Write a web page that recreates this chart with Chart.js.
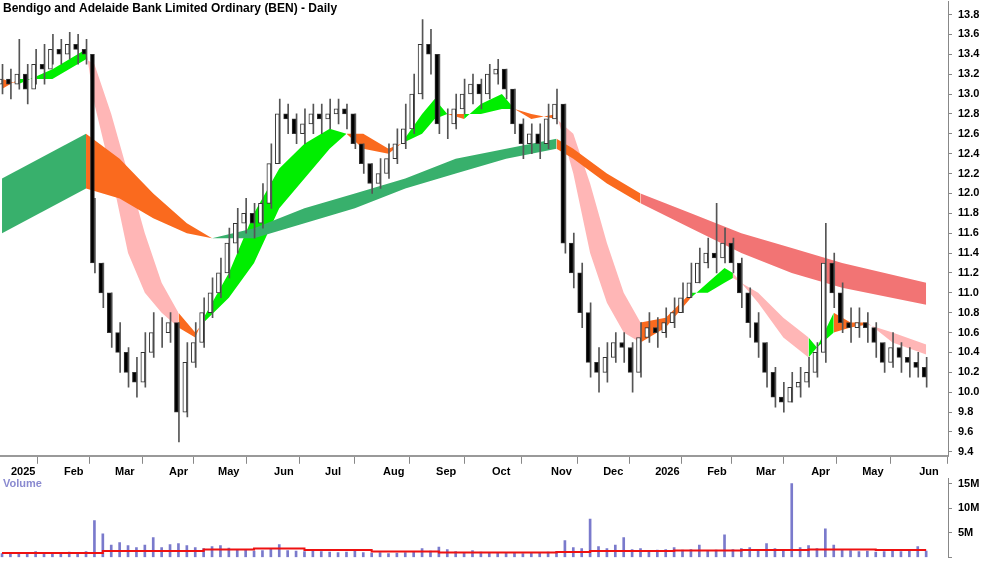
<!DOCTYPE html>
<html><head><meta charset="utf-8">
<script src="https://cdn.jsdelivr.net/npm/chart.js@4/dist/chart.umd.min.js"></script>
<style>body{margin:0;background:#fff;width:1000px;height:562px;overflow:hidden;position:relative}#a{position:absolute;left:0;top:-11px;width:1000px;height:492px}#b{position:absolute;left:0;top:466px;width:1000px;height:104px}</style>
</head><body>
<div id="a"><canvas id="c1"></canvas></div><div id="b"><canvas id="c2"></canvas></div>
<script>
const title = "Bendigo and Adelaide Bank Limited Ordinary (BEN) - Daily";
const closes = [13.15,13.1,13.2,13.05,13.3,13.25,13.45,13.4,13.5,13.45,13.4,11.3,11.0,10.6,10.4,10.2,10.1,10.4,10.6,10.6,10.7,9.8,10.3,10.5,10.8,11.0,11.2,11.5,11.7,11.8,11.7,11.9,12.3,12.8,12.75,12.6,12.7,12.8,12.75,12.8,12.85,12.8,12.5,12.3,12.1,12.2,12.35,12.5,12.65,13.0,13.5,13.4,12.7,12.7,12.85,13.0,13.1,13.0,13.2,13.25,13.05,12.7,12.5,12.6,12.5,12.75,12.9,11.5,11.2,10.8,10.3,10.2,10.35,10.5,10.45,10.2,10.55,10.65,10.6,10.7,10.8,10.95,11.1,11.3,11.4,11.35,11.5,11.3,11.0,10.7,10.5,10.2,9.95,9.9,10.05,10.1,10.2,10.4,11.3,11.0,10.7,10.65,10.7,10.65,10.5,10.3,10.45,10.35,10.3,10.25,10.15];
const highs = [13.3,13.25,13.55,13.3,13.45,13.5,13.6,13.55,13.62,13.6,13.55,11.95,11.3,11.0,10.7,10.45,10.35,10.6,10.8,10.75,10.8,10.7,10.5,10.7,10.95,11.15,11.35,11.65,11.85,11.95,11.9,12.1,12.5,12.95,12.9,12.8,12.85,12.9,12.9,12.95,12.95,12.9,12.8,12.5,12.3,12.35,12.5,12.65,12.9,13.2,13.75,13.65,13.4,12.85,13.0,13.15,13.2,13.15,13.3,13.35,13.25,13.05,12.75,12.7,12.7,12.9,13.05,12.9,11.6,11.3,10.9,10.45,10.5,10.6,10.6,10.5,10.7,10.8,10.75,10.85,10.95,11.1,11.3,11.45,11.55,11.9,11.65,11.55,11.35,11.05,10.8,10.5,10.25,10.1,10.2,10.25,10.35,10.5,11.7,11.4,11.1,10.85,10.85,10.8,10.7,10.5,10.6,10.5,10.45,10.4,10.35];
const lows = [13.0,12.95,13.05,12.9,13.1,13.1,13.3,13.3,13.35,13.3,13.3,11.2,10.85,10.45,10.2,10.05,9.95,10.05,10.35,10.45,10.5,9.5,9.75,10.25,10.45,10.75,10.95,11.15,11.4,11.6,11.55,11.65,11.85,12.3,12.6,12.5,12.5,12.6,12.6,12.65,12.7,12.65,12.45,12.2,12.0,12.05,12.15,12.3,12.45,12.6,12.95,13.2,12.6,12.55,12.65,12.8,12.9,12.85,12.95,13.1,12.95,12.6,12.35,12.4,12.35,12.45,12.7,11.4,11.05,10.65,10.15,10.0,10.1,10.3,10.3,10.0,10.15,10.5,10.45,10.55,10.65,10.8,10.95,11.1,11.25,11.2,11.3,11.2,10.85,10.55,10.35,10.05,9.85,9.8,9.9,9.95,10.05,10.15,10.3,10.85,10.6,10.5,10.55,10.5,10.35,10.2,10.25,10.2,10.15,10.15,10.05];
const volumes = [0.8,0.9,1.0,0.8,1.2,0.9,0.8,1.0,1.1,0.9,1.2,7.5,4.8,2.5,3.0,2.4,2.0,2.5,4.0,2.0,2.6,2.8,2.4,2.0,1.8,2.2,2.4,1.9,1.6,1.5,1.3,1.4,1.8,2.6,1.4,1.3,1.2,1.6,1.2,1.1,1.0,1.1,1.3,1.0,0.9,1.0,0.8,0.9,1.0,1.2,1.8,1.3,2.1,1.6,1.2,1.0,1.4,1.1,0.9,1.0,1.0,0.9,0.8,0.9,1.0,1.1,1.2,3.4,2.0,1.8,7.8,2.2,1.8,2.5,4.0,1.6,1.8,1.4,1.5,1.6,2.0,1.5,1.6,2.5,1.4,1.5,4.6,1.6,1.8,2.0,1.5,2.8,1.8,1.6,15.0,2.0,2.4,1.8,5.8,2.5,1.6,1.4,1.2,1.3,1.1,1.2,1.3,1.2,1.4,2.2,1.3];
// ribbon nodes: [index, lineA, lineB, colour of following segment]
const fastRibbon = [[0,13.15,13.05,'o'],[2,13.1,13.15,'g'],[6,13.25,13.15,'g'],[10,13.45,13.35,'p'],[11,12.9,13.3,'p'],[13,12.2,12.8,'p'],[15,11.4,12.2,'p'],[17,11.0,11.6,'p'],[19,10.8,11.1,'p'],[21,10.65,10.8,'o'],[23,10.55,10.6,'o'],[24,10.75,10.7,'g'],[27,11.2,10.95,'g'],[30,11.8,11.3,'g'],[33,12.25,11.85,'g'],[36,12.5,12.15,'g'],[39,12.65,12.45,'g'],[41,12.6,12.6,'o'],[43,12.45,12.6,'o'],[46,12.4,12.45,'o'],[47.5,12.5,12.5,'g'],[50,12.8,12.6,'g'],[51.5,12.95,12.75,'g'],[53,12.8,12.8,'o'],[55,12.75,12.8,'g'],[57,12.9,12.8,'g'],[59.5,13.0,12.85,'g'],[61,12.85,12.85,'o'],[63,12.75,12.8,'o'],[66,12.8,12.75,'p'],[68,12.2,12.6,'p'],[70,11.4,12.1,'p'],[72,10.9,11.5,'p'],[74,10.6,11.0,'p'],[76,10.5,10.7,'o'],[79,10.65,10.75,'o'],[82,10.95,11.0,'g'],[84,11.1,11.0,'g'],[86,11.25,11.1,'g'],[87,11.2,11.15,'p'],[90,10.9,11.0,'p'],[93,10.55,10.75,'p'],[96,10.35,10.55,'g'],[97,10.45,10.45,'g'],[99,10.8,10.6,'o'],[101,10.7,10.65,'o'],[103,10.7,10.68,'p'],[106,10.5,10.6,'p'],[110,10.38,10.48,'p']];
const slowRibbon = [[0,12.15,11.6,'G'],[10,12.6,12.05,'o'],[14,12.35,11.95,'o'],[18,12.0,11.75,'o'],[22,11.7,11.6,'o'],[25,11.55,11.55,'G'],[30,11.65,11.55,'G'],[36,11.85,11.7,'G'],[42,12.0,11.85,'G'],[48,12.15,12.05,'G'],[54,12.35,12.2,'G'],[60,12.45,12.35,'G'],[66,12.55,12.45,'o'],[68,12.45,12.35,'o'],[72,12.2,12.1,'o'],[76,12.0,11.9,'r'],[82,11.8,11.65,'r'],[88,11.6,11.4,'r'],[94,11.45,11.2,'r'],[100,11.3,11.05,'r'],[110,11.1,10.88,'r']];
const volumeMA = [[0,0.9],[8,0.9],[12,1.3],[24,1.6],[30,1.8],[36,1.5],[44,1.2],[52,1.0],[60,1.0],[66,1.1],[70,1.3],[80,1.4],[88,1.5],[96,1.6],[104,1.5],[110,1.5]];
const priceTicks = [9.4,9.6,9.8,10.0,10.2,10.4,10.6,10.8,11.0,11.2,11.4,11.6,11.8,12.0,12.2,12.4,12.6,12.8,13.0,13.2,13.4,13.6,13.8];
const volumeTicks = [0,5,10,15];
const monthLabels = ["2025","Feb","Mar","Apr","May","Jun","Jul","Aug","Sep","Oct","Nov","Dec","2026","Feb","Mar","Apr","May","Jun"];
const monthPos = [1.07,7.38,13.45,19.88,25.71,32.38,38.45,45.36,51.67,58.33,65.36,71.55,77.74,83.93,89.76,96.31,102.38,109.17];

const colors = {g:'#00ee00',o:'#fa6a1e',p:'#ffb6b6',G:'#38b06c',r:'#f27474'};
function ribbonSets(nodes){
  const out=[];let i=0;
  while(i<nodes.length-1){
    const c=nodes[i][3];let j=i;
    while(j<nodes.length-1 && nodes[j][3]===c) j++;
    const seg=nodes.slice(i,j+1);
    out.push({type:'line',data:seg.map(n=>({x:n[0],y:n[1]})),borderWidth:0,pointRadius:0,fill:'+1',backgroundColor:colors[c],borderColor:colors[c],order:5});
    out.push({type:'line',data:seg.map(n=>({x:n[0],y:n[2]})),borderWidth:0,pointRadius:0,fill:false,borderColor:colors[c],order:5});
    i=j;
  }
  return out;
}
const opens = closes.map((c,i)=>i===0?13.1:closes[i-1]);
const idx = closes.map((_,i)=>i);
const RIGHT=52;
const fixRight = s=>{s.width=RIGHT;};
const titlePlugin={id:'t',afterDraw(ch){const x=ch.ctx;x.save();x.font='bold 12px Arial';x.fillStyle='#000';x.textBaseline='top';x.fillText(title,3,14);x.restore();}};
new Chart(document.getElementById('c1'),{
  data:{datasets:[
    ...ribbonSets(slowRibbon),...ribbonSets(fastRibbon),
    {type:'bar',data:idx.map(i=>({x:i,y:[lows[i],highs[i]]})),backgroundColor:'#555',barThickness:1,order:2},
    {type:'bar',data:idx.map(i=>({x:i,y:[opens[i],closes[i]]})),backgroundColor:idx.map(i=>closes[i]>=opens[i]?'#fff':'#000'),borderColor:'#333',borderWidth:1,borderSkipped:false,barThickness:4,order:1}
  ]},
  options:{responsive:true,maintainAspectRatio:false,animation:false,layout:{padding:0},
    plugins:{legend:{display:false},tooltip:{enabled:false}},
    scales:{
      x:{type:'linear',min:-0.24,max:112.6,offset:false,afterBuildTicks:s=>{s.ticks=monthPos.map(v=>({value:v}));},
        ticks:{autoSkip:false,maxRotation:0,align:'start',padding:2,color:'#000',font:{family:'Arial',weight:'bold',size:11},callback:(v,i)=>monthLabels[i]},
        grid:{drawOnChartArea:false,tickLength:8,color:'#888'},border:{color:'#999',width:2}},
      y:{position:'right',min:9.36,max:13.93,afterFit:fixRight,afterBuildTicks:s=>{s.ticks=priceTicks.map(v=>({value:v}));},
        ticks:{color:'#000',padding:6,font:{family:'Arial',weight:'bold',size:11},callback:v=>v.toFixed(1)},
        grid:{drawOnChartArea:false,tickLength:4,color:'#888'},border:{color:'#888'}}
    }},plugins:[titlePlugin]});
const volPlugin={id:'v',afterDraw(ch){const x=ch.ctx;x.save();x.font='bold 11px Arial';x.fillStyle='#8a8ad0';x.textBaseline='top';x.fillText('Volume',3,12);x.restore();}};
new Chart(document.getElementById('c2'),{
  data:{datasets:[
    {type:'line',data:volumeMA.map(p=>({x:p[0],y:p[1]})),borderColor:'#ee1111',borderWidth:2,pointRadius:0,stepped:true,order:1},
    {type:'bar',data:idx.map(i=>({x:i,y:volumes[i]})),backgroundColor:'#7a7acc',barThickness:2,order:2}
  ]},
  options:{responsive:true,maintainAspectRatio:false,animation:false,layout:{padding:{bottom:0}},
    plugins:{legend:{display:false},tooltip:{enabled:false}},
    scales:{
      x:{type:'linear',min:-0.24,max:112.6,offset:false,display:false},
      y:{position:'right',min:0,max:16.0,afterFit:fixRight,afterBuildTicks:s=>{s.ticks=volumeTicks.map(v=>({value:v}));},
        ticks:{color:'#000',padding:6,font:{family:'Arial',weight:'bold',size:11},callback:v=>v===0?'':v+'M'},
        grid:{drawOnChartArea:false,tickLength:4,color:'#888'},border:{color:'#888'}}
    }},plugins:[volPlugin]});
</script></body></html>
